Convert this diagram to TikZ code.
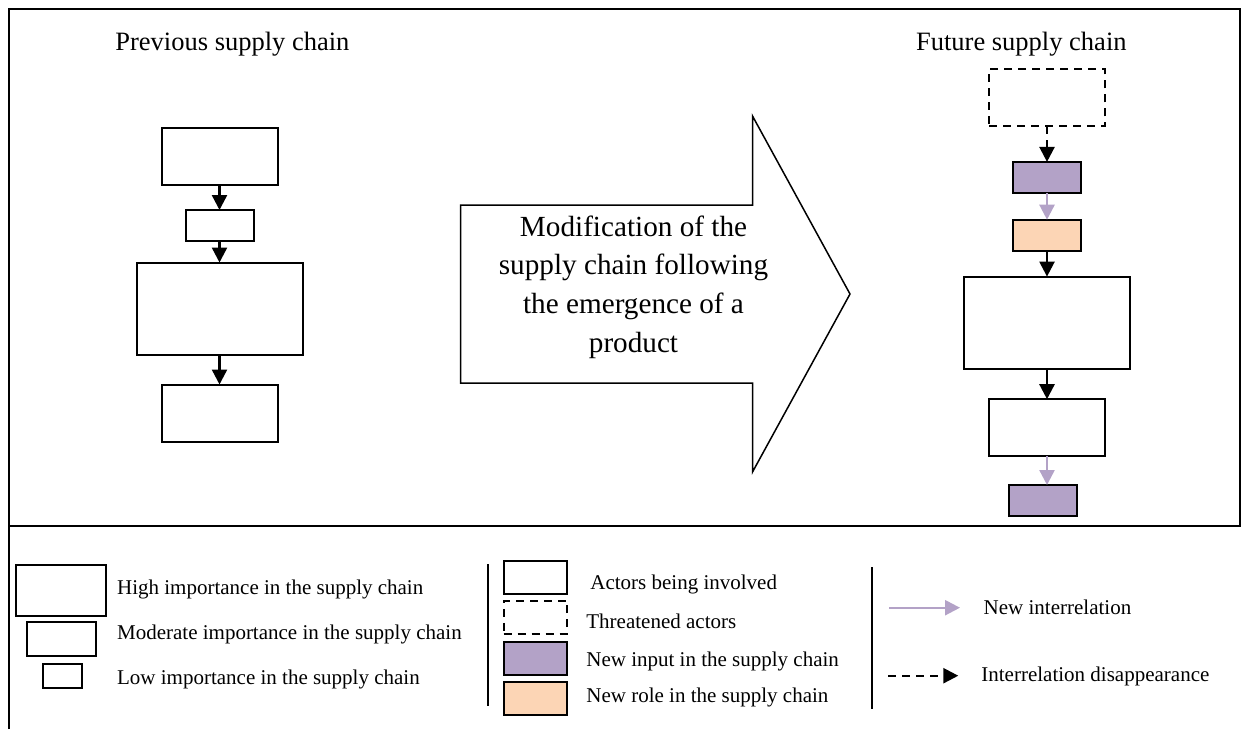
\documentclass[tikz,border=0pt]{standalone}
\usepackage{fontspec}
\setmainfont{Liberation Serif}
\usetikzlibrary{arrows.meta}
\definecolor{inputpurple}{HTML}{B3A2C7}
\definecolor{rolepeach}{HTML}{FCD5B5}
\definecolor{newlink}{HTML}{B3A2C7}

\begin{document}
\begin{tikzpicture}[x=0.5pt, y=-0.5pt,
	actor/.style={rectangle, draw=black, line width=1pt, fill=white, inner sep=0pt, outer sep=0pt},
	bigbox/.style={actor, minimum width=83pt, minimum height=46pt},
	midbox/.style={actor, minimum width=58pt, minimum height=28.5pt},
	smallbox/.style={actor, minimum width=34pt, minimum height=15.5pt},
	threat/.style={dashed, dash pattern=on 4pt off 3pt},
	newinput/.style={fill=inputpurple},
	newrole/.style={fill=rolepeach},
	label/.style={anchor=base west, inner sep=0pt, font=\fontsize{10.5}{12}\selectfont},
	title/.style={inner sep=0pt, font=\fontsize{13.25}{15}\selectfont},
	flow/.style={draw=black, line width=1.2pt, -{Triangle[length=7.5pt, width=7.5pt]}},
	newflow/.style={flow, draw=newlink},
	goneflow/.style={flow, threat}]
			\useasboundingbox (0,0) rectangle (1241,729);
			% frame
			\draw[line width=1pt] (8.5,729) -- (8.5,9) -- (1241,9);
			\draw[line width=1pt] (1240,9) -- (1240,525.7);
			\draw[line width=1pt] (8.5,525.7) -- (1241,525.7);
			
			% previous supply chain
			\node[title, anchor=base west] (tPrev) at (115,50.5) {Previous supply chain};
			\node[midbox] (lA) at (219.5,156){};
			\node[smallbox] (lB) at (219.5,225.5){};
			\node[bigbox] (lC) at (219.5,308.5){};
			\node[midbox] (lD) at (219.5,413){};
			
			\path (lA) edge[flow] (lB);
			\path (lB) edge[flow] (lC);
			\path (lC) edge[flow] (lD);
			
			% modification arrow
			\draw[line width=0.75pt] (460.7,205) -- (752.5,205) -- (752.5,116) -- (850,294) -- (752.5,472) -- (752.5,383) -- (460.7,383) -- cycle;
			\node[align=center, inner sep=0pt, font=\fontsize{14.6}{19.3}\selectfont] (tMod) at (633.5,287) {Modification of the\\supply chain following\\the emergence of a\\product};
			
			% future supply chain
			\node[title, anchor=base east] (tFut) at (1127,50) {Future supply chain};
			\node[midbox, threat] (rT) at (1047,97.9){};
			\node[smallbox, newinput] (rN1) at (1047,177.4){};
			\node[smallbox, newrole] (rR) at (1047,235.2){};
			\node[bigbox] (rH) at (1047,322.6){};
			\node[midbox] (rM) at (1047,427.7){};
			\node[smallbox, newinput] (rN2) at (1043,500.5){};
			
			\path (rT) edge[goneflow] (rN1);
			\path (rN1) edge[newflow] (rR);
			\path (rR) edge[flow] (rH);
			\path (rH) edge[flow] (rM);
			\path (rM.south) edge[newflow] (rM.south |- rN2.north);
			
			% legend
			\node[actor, minimum width=44.85pt, minimum height=25.35pt] (kHigh) at (60.85,590.65){};
			\node[actor, minimum width=34.5pt, minimum height=17.15pt] (kMod) at (61.5,639.15){};
			\node[actor, minimum width=19.8pt, minimum height=11.85pt] (kLow) at (62.5,676.15){};
			\node[label] (kHighT) at (116.7,594.3) {High importance in the supply chain};
			\node[label] (kModT) at (116.7,639.3) {Moderate importance in the supply chain};
			\node[label] (kLowT) at (116.7,684.3) {Low importance in the supply chain};
			
			\draw[line width=1pt] (488.3,564.3) -- (488.3,705.7);
			
			\node[actor, minimum width=31.8pt, minimum height=16.4pt] (kAct) at (535.5,577.15){};
			\node[actor, threat, minimum width=31.8pt, minimum height=16.4pt] (kThr) at (535.5,617.15){};
			\node[actor, newinput, minimum width=31.8pt, minimum height=16.4pt] (kIn) at (535.5,658.2){};
			\node[actor, newrole, minimum width=31.8pt, minimum height=16.4pt] (kRole) at (535.5,698.85){};
			\node[label] (kActT) at (590,589) {Actors being involved};
			\node[label] (kThrT) at (586,628.3) {Threatened actors};
			\node[label] (kInT) at (586,666) {New input in the supply chain};
			\node[label] (kRoleT) at (586,702.7) {New role in the supply chain};
			
			\draw[line width=1pt] (871.7,567.3) -- (871.7,709);
			
			\coordinate (kNewA) at (889,607.7);
			\coordinate (kNewB) at (960,607.7);
			\coordinate (kGoneA) at (888,675.7);
			\coordinate (kGoneB) at (958.3,675.7);
			\path (kNewA) edge[newflow] (kNewB);
			\path (kGoneA) edge[goneflow] (kGoneB);
			\node[label] (kNewT) at (983.3,614) {New interrelation};
			\node[label] (kGoneT) at (981,681.7) {Interrelation disappearance};
			\end{tikzpicture}
\end{document}
